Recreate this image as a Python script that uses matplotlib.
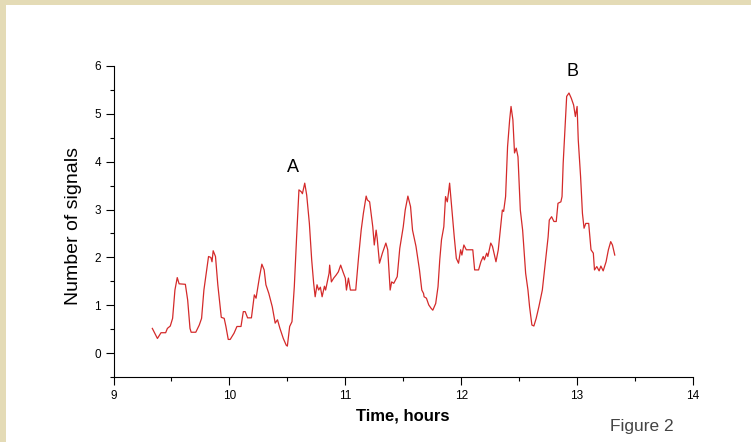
import matplotlib
matplotlib.use("Agg")
import matplotlib.pyplot as plt
from matplotlib.patches import Rectangle
from matplotlib.ticker import MultipleLocator

time_hours = [
    9.335, 9.379, 9.41, 9.45, 9.465, 9.49, 9.51, 9.53, 9.55, 9.566, 9.62, 9.64, 9.66, 9.67,
    9.71, 9.74, 9.76, 9.78, 9.82, 9.84, 9.85, 9.86, 9.88, 9.90, 9.93, 9.955, 9.97, 9.99,
    10.007, 10.04, 10.065, 10.10, 10.12, 10.136, 10.157, 10.19, 10.215, 10.23, 10.26, 10.28,
    10.30, 10.315, 10.34, 10.37, 10.395, 10.415, 10.436, 10.465, 10.49, 10.50, 10.52, 10.54,
    10.56, 10.58, 10.60, 10.62, 10.63, 10.65, 10.667, 10.69, 10.71, 10.727, 10.74, 10.756,
    10.77, 10.785, 10.80, 10.82, 10.83, 10.86, 10.865, 10.88, 10.90, 10.92, 10.94, 10.96,
    10.98, 11.00, 11.01, 11.027, 11.044, 11.09, 11.115, 11.137, 11.156, 11.18, 11.19, 11.21,
    11.237, 11.25, 11.266, 11.275, 11.295, 11.32, 11.35, 11.366, 11.387, 11.40, 11.418,
    11.448, 11.47, 11.50, 11.517, 11.54, 11.563, 11.58, 11.61, 11.64, 11.66, 11.675, 11.68,
    11.70, 11.72, 11.74, 11.755, 11.78, 11.80, 11.815, 11.83, 11.85, 11.865, 11.88, 11.89,
    11.90, 11.92, 11.94, 11.958, 11.977, 11.995, 12.006, 12.023, 12.044, 12.10, 12.116,
    12.15, 12.17, 12.19, 12.20, 12.22, 12.23, 12.255, 12.27, 12.30, 12.32, 12.34, 12.355,
    12.366, 12.383, 12.40, 12.418, 12.43, 12.446, 12.46, 12.475, 12.49, 12.51, 12.53, 12.556,
    12.576, 12.59, 12.61, 12.627, 12.647, 12.67, 12.70, 12.725, 12.75, 12.76, 12.78, 12.80,
    12.82, 12.835, 12.86, 12.87, 12.88, 12.90, 12.91, 12.93, 12.95, 12.97, 12.985, 13.00,
    13.01, 13.03, 13.046, 13.06, 13.075, 13.10, 13.12, 13.14, 13.15, 13.17, 13.19, 13.205,
    13.225, 13.25, 13.27, 13.29, 13.305, 13.325,
]
num_signals = [
    0.52, 0.31, 0.43, 0.43, 0.52, 0.57, 0.73, 1.32, 1.58, 1.45, 1.44, 1.11, 0.52, 0.44,
    0.44, 0.59, 0.73, 1.32, 2.02, 2.00, 1.91, 2.14, 2.02, 1.43, 0.75, 0.73, 0.56, 0.29,
    0.29, 0.42, 0.56, 0.56, 0.87, 0.87, 0.74, 0.74, 1.22, 1.15, 1.60, 1.86,
    1.74, 1.43, 1.25, 0.97, 0.63, 0.70, 0.52, 0.31, 0.17, 0.15, 0.56, 0.66,
    1.39, 2.43, 3.41, 3.37, 3.33, 3.55, 3.30, 2.71, 1.95, 1.46, 1.18, 1.43,
    1.32, 1.38, 1.18, 1.40, 1.32, 1.67, 1.84, 1.49, 1.57, 1.63, 1.70, 1.84,
    1.70, 1.57, 1.32, 1.57, 1.32, 1.32, 2.02, 2.57, 2.92, 3.28, 3.20, 3.16,
    2.64, 2.26, 2.57, 2.40, 1.88, 2.09, 2.30, 2.16, 1.32, 1.49, 1.46,
    1.60, 2.19, 2.64, 2.99, 3.28, 3.06, 2.57, 2.23, 1.74, 1.32, 1.25, 1.18,
    1.15, 1.01, 0.94, 0.90, 1.04, 1.39, 1.95, 2.37, 2.64, 3.27, 3.16, 3.34,
    3.55, 2.99, 2.43, 1.98, 1.88, 2.16, 2.05, 2.26, 2.16, 2.16, 1.74,
    1.74, 1.91, 2.02, 1.95, 2.09, 2.02, 2.30, 2.23, 1.91, 2.16, 2.64, 2.99,
    2.96, 3.27, 4.31, 4.87, 5.15, 4.87, 4.18, 4.28, 4.10, 2.99, 2.57, 1.67,
    1.32, 0.97, 0.59, 0.57, 0.73, 0.97, 1.32, 1.88, 2.43, 2.78, 2.85, 2.75,
    2.75, 3.13, 3.16, 3.27, 3.97, 4.87, 5.36, 5.43, 5.32, 5.18, 4.94, 5.15,
    4.45, 3.69, 2.92, 2.61, 2.71, 2.71, 2.16, 2.09, 1.74, 1.81, 1.72, 1.82,
    1.72, 1.91, 2.16, 2.33, 2.26, 2.05,
]
x_ticks = [9, 10, 11, 12, 13, 14]
y_ticks = [0, 1, 2, 3, 4, 5, 6]
annotations = [("A", 10.55, 3.87), ("B", 12.96, 5.88)]

plt.rcParams['font.family'] = ['Liberation Sans', 'DejaVu Sans']

W, H = 751, 442
fig = plt.figure(figsize=(W / 100, H / 100), dpi=100)
fig.patch.set_facecolor('white')
# beige textured frame (left and top)
fig.patches.append(Rectangle((0, 0), 6 / W, 1, transform=fig.transFigure,
                             facecolor='#e4dbb6', edgecolor='none', zorder=0))
fig.patches.append(Rectangle((0, 1 - 5 / H), 1, 5 / H, transform=fig.transFigure,
                             facecolor='#e4dbb6', edgecolor='none', zorder=0))

left, right = 113.5 / W, 693 / W
bottom, top = (H - 377.3) / H, (H - 65.7) / H
ax = fig.add_axes([left, bottom, right - left, top - bottom])
ax.set_facecolor('none')

ax.plot(time_hours, num_signals, color='#d42a2a', lw=0.9)

ax.set_xlim(9, 14)
ax.set_ylim(-0.5, 6)
ax.set_xticks(x_ticks)
ax.set_yticks(y_ticks)
ax.xaxis.set_minor_locator(MultipleLocator(0.5))
ax.yaxis.set_minor_locator(MultipleLocator(0.5))
ax.tick_params(which='major', direction='out', length=6, width=0.8, labelsize=8.5,
               colors='black', pad=3)
ax.tick_params(which='minor', direction='out', length=3, width=0.8)
for s in ['top', 'right']:
    ax.spines[s].set_visible(False)
for s in ['left', 'bottom']:
    ax.spines[s].set_linewidth(0.8)

ax.set_xlabel('Time, hours', fontsize=12, fontweight='bold', labelpad=5)
fig.text(73 / W, 1 - 226 / H, 'Number of signals', rotation=90, fontsize=14,
         ha='center', va='center')
fig.text(642 / W, 1 - 427 / H, 'Figure 2', fontsize=12.5, color='#444444',
         ha='center', va='center')

for lab, xv, yv in annotations:
    ax.text(xv, yv, lab, fontsize=13, ha='center', va='center')

fig.savefig('out.png', dpi=100)
